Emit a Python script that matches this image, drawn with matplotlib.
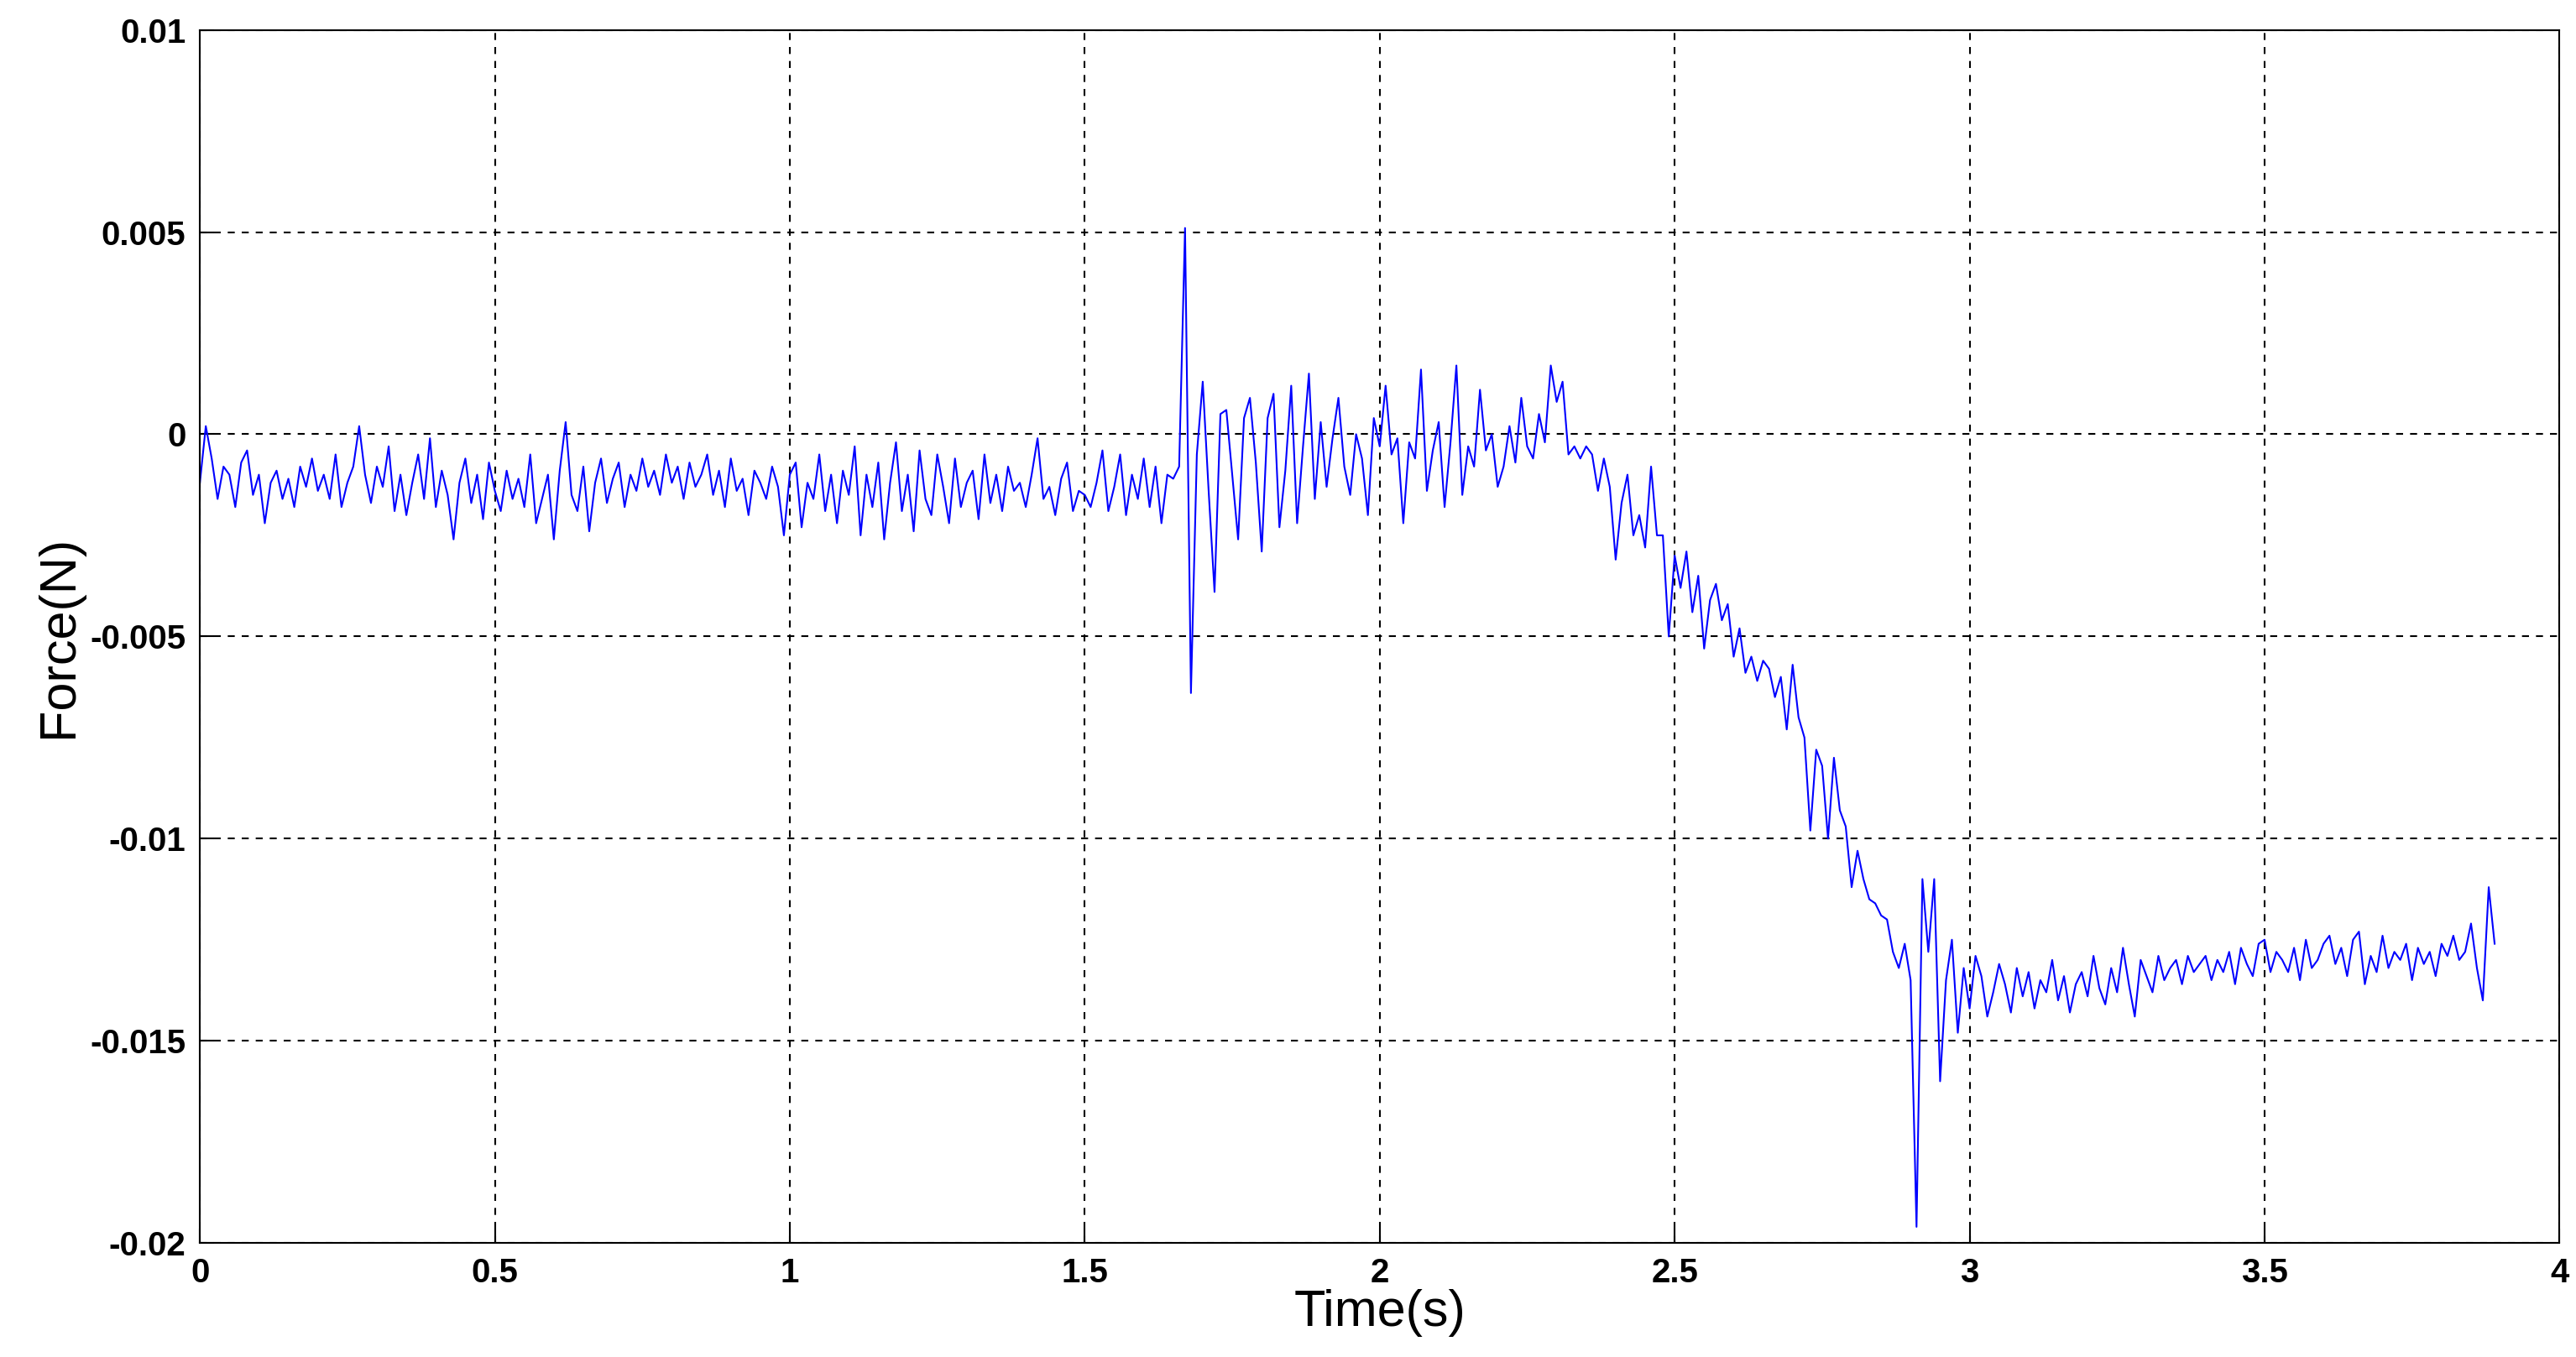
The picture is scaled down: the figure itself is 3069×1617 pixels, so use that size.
import numpy as np
import matplotlib
matplotlib.use('Agg')
import matplotlib.pyplot as plt

dt = 0.01  # sample spacing, s
# force readings in units of 1e-3 N, one per 0.01 s starting at t=0
force_mN = [
    -1.2, 0.2, -0.6, -1.6, -0.8, -1.0, -1.8, -0.7, -0.4, -1.5,
    -1.0, -2.2, -1.2, -0.9, -1.6, -1.1, -1.8, -0.8, -1.3, -0.6,
    -1.4, -1.0, -1.6, -0.5, -1.8, -1.2, -0.8, 0.2, -1.0, -1.7,
    -0.8, -1.3, -0.3, -1.9, -1.0, -2.0, -1.2, -0.5, -1.6, -0.1,
    -1.8, -0.9, -1.5, -2.6, -1.2, -0.6, -1.7, -1.0, -2.1, -0.7,
    -1.4, -1.9, -0.9, -1.6, -1.1, -1.8, -0.5, -2.2, -1.6, -1.0,
    -2.6, -0.9, 0.3, -1.5, -1.9, -0.8, -2.4, -1.2, -0.6, -1.7,
    -1.1, -0.7, -1.8, -1.0, -1.4, -0.6, -1.3, -0.9, -1.5, -0.5,
    -1.2, -0.8, -1.6, -0.7, -1.3, -1.0, -0.5, -1.5, -0.9, -1.8,
    -0.6, -1.4, -1.1, -2.0, -0.9, -1.2, -1.6, -0.8, -1.3, -2.5,
    -1.0, -0.7, -2.3, -1.2, -1.6, -0.5, -1.9, -1.0, -2.2, -0.9,
    -1.5, -0.3, -2.5, -1.0, -1.8, -0.7, -2.6, -1.2, -0.2, -1.9,
    -1.0, -2.4, -0.4, -1.6, -2.0, -0.5, -1.3, -2.2, -0.6, -1.8,
    -1.2, -0.9, -2.1, -0.5, -1.7, -1.0, -1.9, -0.8, -1.4, -1.2,
    -1.8, -1.0, -0.1, -1.6, -1.3, -2.0, -1.1, -0.7, -1.9, -1.4,
    -1.5, -1.8, -1.2, -0.4, -1.9, -1.3, -0.5, -2.0, -1.0, -1.6,
    -0.6, -1.8, -0.8, -2.2, -1.0, -1.1, -0.8, 5.1, -6.4, -0.5,
    1.3, -1.4, -3.9, 0.5, 0.6, -1.0, -2.6, 0.4, 0.9, -0.7,
    -2.9, 0.4, 1.0, -2.3, -0.9, 1.2, -2.2, -0.3, 1.5, -1.6,
    0.3, -1.3, -0.1, 0.9, -0.8, -1.5, 0.0, -0.6, -2.0, 0.4,
    -0.3, 1.2, -0.5, -0.1, -2.2, -0.2, -0.6, 1.6, -1.4, -0.4,
    0.3, -1.8, -0.2, 1.7, -1.5, -0.3, -0.8, 1.1, -0.4, 0.0,
    -1.3, -0.8, 0.2, -0.7, 0.9, -0.3, -0.6, 0.5, -0.2, 1.7,
    0.8, 1.3, -0.5, -0.3, -0.6, -0.3, -0.5, -1.4, -0.6, -1.3,
    -3.1, -1.7, -1.0, -2.5, -2.0, -2.8, -0.8, -2.5, -2.5, -5.0,
    -3.0, -3.8, -2.9, -4.4, -3.5, -5.3, -4.1, -3.7, -4.6, -4.2,
    -5.5, -4.8, -5.9, -5.5, -6.1, -5.6, -5.8, -6.5, -6.0, -7.3,
    -5.7, -7.0, -7.5, -9.8, -7.8, -8.2, -10.0, -8.0, -9.3, -9.7,
    -11.2, -10.3, -11.0, -11.5, -11.6, -11.9, -12.0, -12.8, -13.2, -12.6,
    -13.5, -19.6, -11.0, -12.8, -11.0, -16.0, -13.5, -12.5, -14.8, -13.2,
    -14.2, -12.9, -13.4, -14.4, -13.8, -13.1, -13.6, -14.3, -13.2, -13.9,
    -13.3, -14.2, -13.5, -13.8, -13.0, -14.0, -13.4, -14.3, -13.6, -13.3,
    -13.9, -12.9, -13.7, -14.1, -13.2, -13.8, -12.7, -13.6, -14.4, -13.0,
    -13.4, -13.8, -12.9, -13.5, -13.2, -13.0, -13.6, -12.9, -13.3, -13.1,
    -12.9, -13.5, -13.0, -13.3, -12.8, -13.6, -12.7, -13.1, -13.4, -12.6,
    -12.5, -13.3, -12.8, -13.0, -13.3, -12.7, -13.5, -12.5, -13.2, -13.0,
    -12.6, -12.4, -13.1, -12.7, -13.4, -12.5, -12.3, -13.6, -12.9, -13.3,
    -12.4, -13.2, -12.8, -13.0, -12.6, -13.5, -12.7, -13.1, -12.8, -13.4,
    -12.6, -12.9, -12.4, -13.0, -12.8, -12.1, -13.2, -14.0, -11.2, -12.6,
]
force = np.array(force_mN) * 1e-3
t = np.arange(len(force)) * dt

xticks = [0, 0.5, 1, 1.5, 2, 2.5, 3, 3.5, 4]
yticks = [-0.02, -0.015, -0.01, -0.005, 0, 0.005, 0.01]
ytick_labels = ['-0.02', '-0.015', '-0.01', '-0.005', '0', '0.005', '0.01']

plt.rcParams['font.family'] = ['Liberation Sans', 'DejaVu Sans']

fig = plt.figure(figsize=(30.69, 16.17), dpi=100)
ax = fig.add_axes([0.0776, 0.084, 0.916, 0.894])
ax.plot(t, force, color='blue', linewidth=1.5)
ax.set_xlim(0, 4)
ax.set_ylim(-0.02, 0.01)
ax.set_xticks(xticks)
ax.set_xticklabels(['0', '0.5', '1', '1.5', '2', '2.5', '3', '3.5', '4'])
ax.set_yticks(yticks)
ax.set_yticklabels(ytick_labels)
ax.tick_params(direction='in', length=12, width=1.5, labelsize=29, pad=12)
for lab in ax.get_xticklabels() + ax.get_yticklabels():
    lab.set_fontweight('bold')
ax.grid(True, color='black', linestyle=(0, (4, 4)), linewidth=1.5)
for s in ax.spines.values():
    s.set_linewidth(1.5)
ax.set_xlabel('Time(s)', fontsize=44, labelpad=0)
ax.set_ylabel('Force(N)', fontsize=44, labelpad=6)
fig.savefig('out.png', dpi=100, facecolor='white')
